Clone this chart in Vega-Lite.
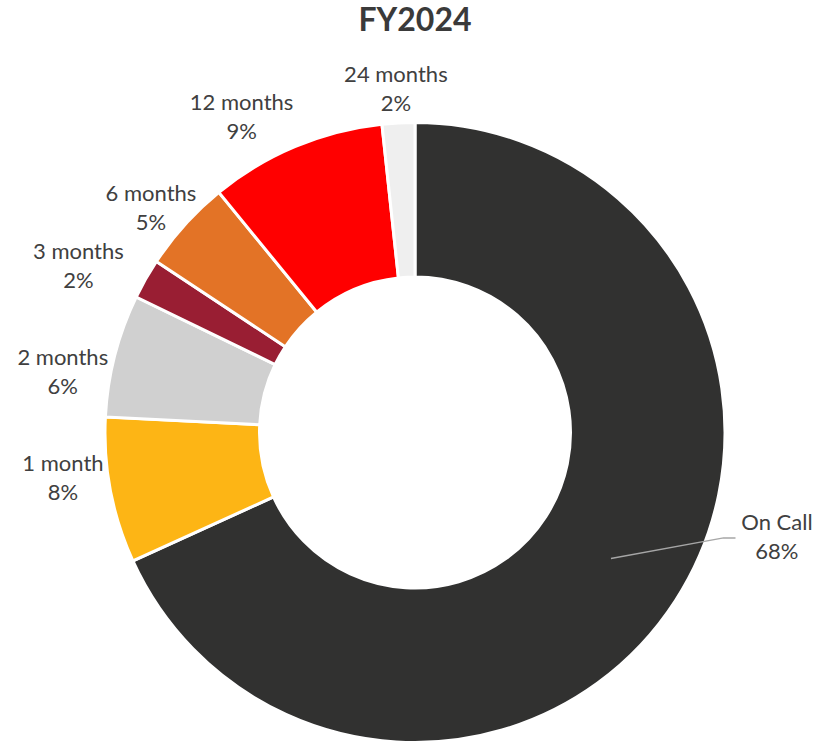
{
  "$schema": "https://vega.github.io/schema/vega-lite/v6.json",
  "width": 812,
  "height": 621,
  "autosize": {"type": "none"},
  "padding": {"left": 9, "top": 122, "right": 0, "bottom": 0},
  "background": "white",
  "title": {"text": "FY2024", "font": "Lato", "fontSize": 32, "fontWeight": "bold", "color": "#3a3a3a", "anchor": "middle", "offset": 26},
  "config": {"view": {"stroke": null}},
  "data": {
    "values": [
      {"category": "On Call", "value": 68.2, "rank": 1},
      {"category": "1 month", "value": 7.6, "rank": 2},
      {"category": "2 months", "value": 6.4, "rank": 3},
      {"category": "3 months", "value": 2.1, "rank": 4},
      {"category": "6 months", "value": 4.8, "rank": 5},
      {"category": "12 months", "value": 9.2, "rank": 6},
      {"category": "24 months", "value": 1.7, "rank": 7}
    ]
  },
  "transform": [
    {"joinaggregate": [{"op": "sum", "field": "value", "as": "total"}]},
    {"calculate": "datum.category + '\\n' + format(datum.value / datum.total, '.0%')", "as": "label"},
    {"stack": "value", "groupby": [], "sort": [{"field": "rank", "order": "ascending"}], "as": ["v0", "v1"]},
    {"calculate": "(datum.v0 + datum.v1) / 2", "as": "vmid"}
  ],
  "layer": [
    {
      "mark": {"type": "arc", "innerRadius": 155.5, "outerRadius": 310, "stroke": "white", "strokeWidth": 3},
      "encoding": {
        "theta": {"field": "v0", "type": "quantitative", "scale": {"domain": [0, 100], "range": [0, 6.283185307179586], "nice": false, "zero": true}},
        "theta2": {"field": "v1"},
        "color": {
          "field": "category",
          "type": "nominal",
          "scale": {
            "domain": ["On Call", "1 month", "2 months", "3 months", "6 months", "12 months", "24 months"],
            "range": ["#313130", "#FDB515", "#D0D0D0", "#991E33", "#E37326", "#FF0000", "#EFEFEF"]
          },
          "legend": null
        }
      }
    },
    {
      "transform": [{"filter": "datum.category === '24 months'"}],
      "mark": {"type": "text", "radius": 358, "thetaOffset": 0, "font": "Lato", "fontSize": 22, "color": "#404040", "lineHeight": 29, "lineBreak": "\n", "align": "center", "baseline": "middle"},
      "encoding": {"theta": {"field": "vmid", "type": "quantitative"}, "text": {"field": "label", "type": "nominal"}}
    },
    {
      "transform": [{"filter": "datum.category === '12 months'"}],
      "mark": {"type": "text", "radius": 372, "thetaOffset": -0.089, "font": "Lato", "fontSize": 22, "color": "#404040", "lineHeight": 29, "lineBreak": "\n", "align": "center", "baseline": "middle"},
      "encoding": {"theta": {"field": "vmid", "type": "quantitative"}, "text": {"field": "label", "type": "nominal"}}
    },
    {
      "transform": [{"filter": "datum.category === '6 months'"}],
      "mark": {"type": "text", "radius": 356, "thetaOffset": 0, "font": "Lato", "fontSize": 22, "color": "#404040", "lineHeight": 29, "lineBreak": "\n", "align": "center", "baseline": "middle"},
      "encoding": {"theta": {"field": "vmid", "type": "quantitative"}, "text": {"field": "label", "type": "nominal"}}
    },
    {
      "transform": [{"filter": "datum.category === '3 months'"}],
      "mark": {"type": "text", "radius": 382, "thetaOffset": -0.026, "font": "Lato", "fontSize": 22, "color": "#404040", "lineHeight": 29, "lineBreak": "\n", "align": "center", "baseline": "middle"},
      "encoding": {"theta": {"field": "vmid", "type": "quantitative"}, "text": {"field": "label", "type": "nominal"}}
    },
    {
      "transform": [{"filter": "datum.category === '2 months'"}],
      "mark": {"type": "text", "radius": 360, "thetaOffset": -0.043, "font": "Lato", "fontSize": 22, "color": "#404040", "lineHeight": 29, "lineBreak": "\n", "align": "center", "baseline": "middle"},
      "encoding": {"theta": {"field": "vmid", "type": "quantitative"}, "text": {"field": "label", "type": "nominal"}}
    },
    {
      "transform": [{"filter": "datum.category === '1 month'"}],
      "mark": {"type": "text", "radius": 353.5, "thetaOffset": 0.098, "font": "Lato", "fontSize": 22, "color": "#404040", "lineHeight": 29, "lineBreak": "\n", "align": "center", "baseline": "middle"},
      "encoding": {"theta": {"field": "vmid", "type": "quantitative"}, "text": {"field": "label", "type": "nominal"}}
    },
    {
      "transform": [{"filter": "datum.category === 'On Call'"}],
      "mark": {"type": "text", "radius": 373, "thetaOffset": -0.3274, "font": "Lato", "fontSize": 22, "color": "#404040", "lineHeight": 29, "lineBreak": "\n", "align": "center", "baseline": "middle"},
      "encoding": {"theta": {"field": "vmid", "type": "quantitative"}, "text": {"field": "label", "type": "nominal"}}
    },
    {
      "transform": [
        {"filter": "datum.category === 'On Call'"},
        {"calculate": "2 * PI * datum.vmid / datum.total", "as": "mid"},
        {"calculate": "[0, 1, 2]", "as": "k"},
        {"flatten": ["k"]},
        {"calculate": "datum.k === 0 ? 233 * sin(datum.mid) : 326 * sin(datum.mid - 0.2426) + (datum.k === 2 ? 12 : 0)", "as": "px"},
        {"calculate": "datum.k === 0 ? 233 * cos(datum.mid) : 326 * cos(datum.mid - 0.2426)", "as": "py"}
      ],
      "mark": {"type": "line", "color": "#A6A6A6", "strokeWidth": 1.5},
      "encoding": {
        "x": {"field": "px", "type": "quantitative", "scale": {"domain": [-406, 406], "nice": false, "zero": false}, "axis": null},
        "y": {"field": "py", "type": "quantitative", "scale": {"domain": [-310.5, 310.5], "nice": false, "zero": false}, "axis": null},
        "order": {"field": "k", "type": "quantitative"}
      }
    }
  ]
}
